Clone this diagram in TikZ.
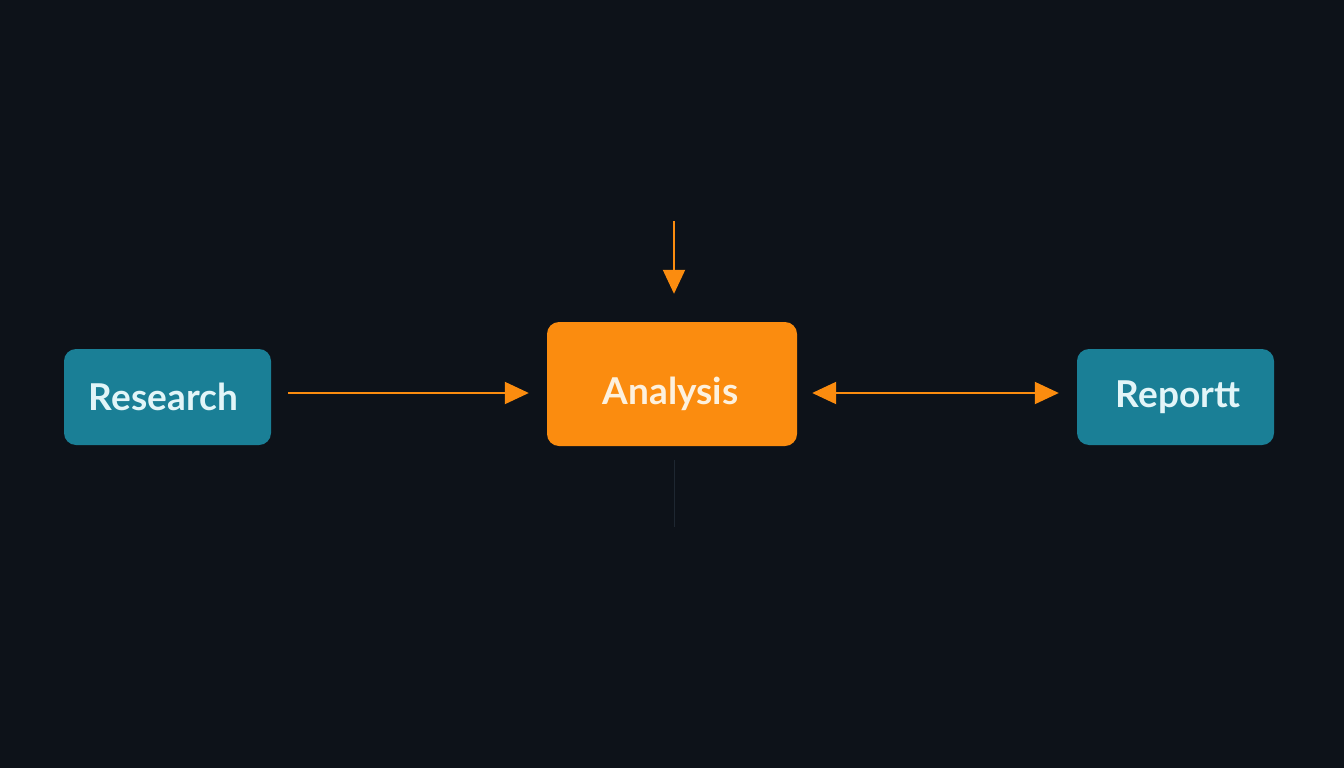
\documentclass[tikz,border=0pt]{standalone}
\usepackage{fontspec}
\setmainfont{Lato}
\usetikzlibrary{arrows.meta}
\definecolor{bg}{HTML}{0D1219}
\definecolor{teal}{HTML}{1A7F96}
\definecolor{orng}{HTML}{FB8C0F}
\definecolor{tealtxt}{HTML}{E2F5F8}
\definecolor{orngtxt}{HTML}{FDF1DE}
\definecolor{faint}{HTML}{1E2731}
\tikzset{
  box/.style={rounded corners=12pt, inner sep=0pt, align=center, font=\fontsize{37}{40}\selectfont\bfseries},
  tealbox/.style={box, fill=teal, text=tealtxt},
  orngbox/.style={box, fill=orng, text=orngtxt},
  conn/.style={draw=orng, line width=2pt, -{Triangle[length=24pt,width=22pt]}},
  dconn/.style={draw=orng, line width=2pt, {Triangle[length=24pt,width=22pt]}-{Triangle[length=24pt,width=22pt]}},
}
\begin{document}
\begin{tikzpicture}[x=1pt,y=-1pt]
\fill[bg] (0,0) rectangle (1344,768);
\useasboundingbox (0,0) rectangle (1344,768);
\node[tealbox, minimum width=207pt, minimum height=96pt] (res) at (167.5,397) {Research\hspace*{8pt}};
\node[orngbox, minimum width=250pt, minimum height=124pt, text height=48pt, text depth=7pt] (ana) at (672,384) {Analysis\hspace*{3pt}};
\node[tealbox, minimum width=197pt, minimum height=96pt] (rep) at (1175.5,397) {\hspace*{5pt}Reportt};
\coordinate (top) at (674,221);
\coordinate (bot) at (674,527);
\draw[conn, shorten <=17pt, shorten >=18pt] (res.east |- 0,393) -- (ana.west |- 0,393);
\draw[dconn, shorten <=15pt, shorten >=18pt] (ana.east |- 0,393) -- (rep.west |- 0,393);
\draw[conn, shorten >=28pt] (top) -- (top |- ana.north);
\draw[faint, line width=1pt, shorten <=14pt] (bot |- ana.south) -- (bot);
\end{tikzpicture}
\end{document}
